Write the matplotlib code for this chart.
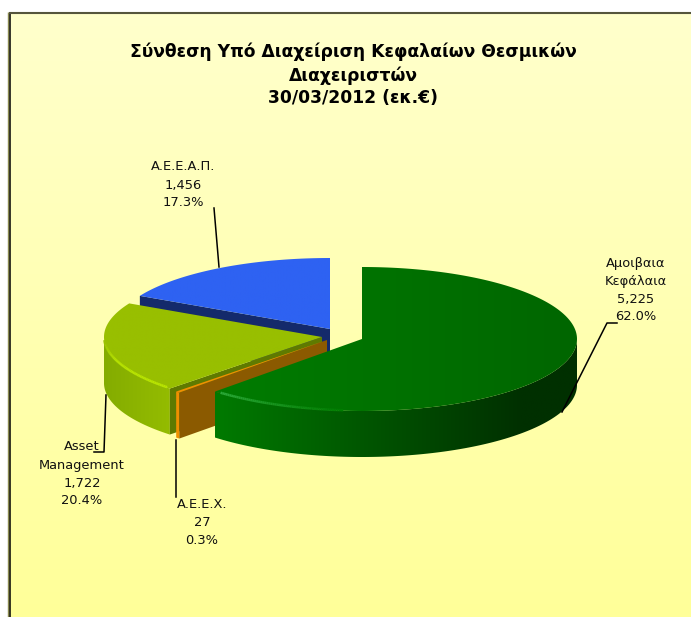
import numpy as np
import matplotlib
matplotlib.use("Agg")
import matplotlib.pyplot as plt
from matplotlib.colors import to_rgb
from matplotlib.patches import Polygon

categories = ["Α.Ε.Ε.Α.Π.", "Asset\nManagement", "Α.Ε.Ε.Χ.", "Αμοιβαια\nΚεφάλαια"]
values = [1456, 1722, 27, 5225]
value_labels = ["1,456", "1,722", "27", "5,225"]
percent_labels = ["17.3%", "20.4%", "0.3%", "62.0%"]
title = "Σύνθεση Υπό Διαχείριση Κεφαλαίων Θεσμικών\nΔιαχειριστών\n30/03/2012 (εκ.€)"

W, H = 691, 617
fig = plt.figure(figsize=(W / 100, H / 100), dpi=100, facecolor="white")
ax = fig.add_axes([0, 0, 1, 1])
ax.axis("off")
ax.set_xlim(0, W)
ax.set_ylim(H, 0)
ax.set_autoscale_on(False)


def gradient(extent, c1, c2, axis, zorder, clip=None):
    a, b = np.array(to_rgb(c1)), np.array(to_rgb(c2))
    t = np.linspace(0, 1, 256)[:, None] * (b - a) + a
    img = t[None, :, :] if axis == "x" else t[:, None, :]
    im = ax.imshow(img, extent=extent, aspect="auto", zorder=zorder, interpolation="bilinear")
    if clip is not None:
        patch = Polygon(clip, closed=True, transform=ax.transData, facecolor="none", edgecolor="none")
        im.set_clip_path(patch)
    return im


# background
gradient((9, W, H, 13), "#FFFFCC", "#FFFF99", "y", 0)
ax.plot([8.5, 8.5], [12, H], color="#8A8A50", lw=1, zorder=1, solid_capstyle="butt")
ax.plot([9.7, 9.7], [13, H], color="black", lw=1.1, zorder=1, solid_capstyle="butt")
ax.plot([9, W], [12.8, 12.8], color="#55553C", lw=1.5, zorder=1, solid_capstyle="butt")

# pie geometry
total = sum(values)
sweeps = 360 * np.array(values) / total
starts = 90 + np.concatenate(([0], np.cumsum(sweeps)[:-1]))
ends = starts + sweeps
DEPTH = 46
styles = [
    dict(c=(330, 329), rx=215, ry=71, top=("#2E62F2", "#2E62F2"), cut="#142A6B", wall=("#142A6B", "#142A6B"), rim=None),
    dict(c=(322, 337), rx=218, ry=72, top=("#98BF00", "#98BF00"), cut="#5F7A00", wall=("#84AC00", "#94BC00"), rim="#B8E400"),
    dict(c=(327, 340), rx=216, ry=72, top=("#F09000", "#F09000"), cut="#8B5A00", wall=("#F09000", "#F09000"), rim=None),
    dict(c=(362, 339), rx=215, ry=72, top=("#007C00", "#006600"), cut="#004000", wall=("#007A00", "#003000"), rim="#2AA838"),
]


def pt(s, a, dz=0.0):
    r = np.radians(a)
    return s["c"][0] + s["rx"] * np.cos(r), s["c"][1] - s["ry"] * np.sin(r) + dz


def lerp(c1, c2, t):
    return tuple((1 - t) * np.array(to_rgb(c1)) + t * np.array(to_rgb(c2)))


for i, (s, a0, a1) in enumerate(zip(styles, starts, ends)):
    z = 10 + i
    cx, cy = s["c"]
    # outer wall, shaded left to right
    lo, hi = max(a0, 180), min(a1, 360)
    if hi > lo:
        angs = np.linspace(lo, hi, 200)
        upper = [pt(s, a) for a in angs]
        lower = [pt(s, a, DEPTH) for a in angs[::-1]]
        poly = upper + lower
        xs = [p[0] for p in poly]
        ys = [p[1] for p in poly]
        x_end = min(max(xs), s["c"][0] + 160) if i == 3 else max(xs)
        gradient((min(xs), x_end, max(ys), min(ys)), s["wall"][0], s["wall"][1], "x", z, poly)
        if x_end < max(xs):
            gradient((x_end, max(xs), max(ys), min(ys)), s["wall"][1], s["wall"][1], "x", z, poly)
    # visible cut face at the counter-clockwise end
    if i < 3:
        x1, y1 = pt(s, a1)
        ax.fill([cx, x1, x1, cx], [cy, y1, y1 + DEPTH, cy + DEPTH], color=s["cut"], lw=0, zorder=z + 0.1)
    # top face
    angs = np.linspace(a0, a1, 240)
    poly = [(cx, cy)] + [pt(s, a) for a in angs]
    xs = [p[0] for p in poly]
    ys = [p[1] for p in poly]
    gradient((min(xs), max(xs), max(ys), min(ys)), s["top"][0], s["top"][1], "x", z + 0.2, poly)
    # rim highlight along the front edge
    if s["rim"]:
        span = (183, a1 - 1) if i == 1 else (a0 + 2, 265)
        angs = np.linspace(span[0], span[1], 60)
        for a, b in zip(angs[:-1], angs[1:]):
            u = (a - span[0]) / (span[1] - span[0])
            f = min(1, u * 2.5) if i == 1 else 1 - u
            col = lerp(s["top"][0], s["rim"], f)
            pa, pb = pt(s, a, -0.5), pt(s, b, -0.5)
            ax.plot([pa[0], pb[0]], [pa[1], pb[1]], color=col, lw=1.8, zorder=z + 0.5, solid_capstyle="butt")

# title
ax.text(353, 75, title, ha="center", va="center", fontsize=12.35, fontweight="bold",
        family="DejaVu Sans", linespacing=1.33, color="black", zorder=30)

# data labels
label_xy = [(183, 185), (82, 474), (202, 523), (636, 290)]
for cat, v, p, (x, y) in zip(categories, value_labels, percent_labels, label_xy):
    ax.text(x, y, f"{cat}\n{v}\n{p}", ha="center", va="center", fontsize=9.4,
            family="DejaVu Sans", linespacing=1.5, color="#111111", zorder=30)

# leader lines
leaders = [
    ([214, 219], [208, 267]),
    ([106, 104, 94], [395, 452, 452]),
    ([176, 176], [440, 497]),
    ([562, 607, 617], [412, 323, 323]),
]
for xs, ys in leaders:
    ax.plot(xs, ys, color="black", lw=1.1, zorder=25)

ax.set_xlim(0, W)
ax.set_ylim(H, 0)
fig.savefig("out.png", dpi=100, facecolor="white")
